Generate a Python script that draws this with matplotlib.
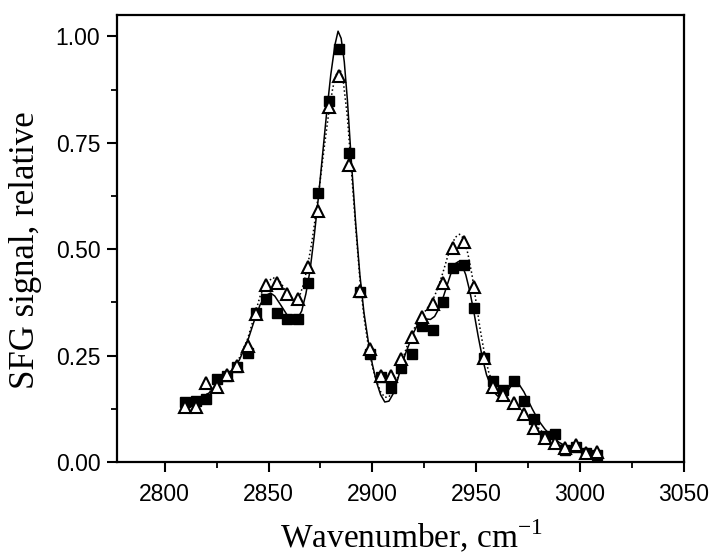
import matplotlib
matplotlib.use("Agg")
import matplotlib.pyplot as plt
from matplotlib.ticker import MultipleLocator, FormatStrFormatter

# measured points (same wavenumbers for both series)
wavenumber = [2810, 2815, 2820, 2825, 2830, 2835, 2840, 2844, 2849, 2854, 2859, 2864,
              2869, 2874, 2879, 2884, 2889, 2894, 2899, 2904, 2909, 2914, 2919, 2924,
              2929, 2934, 2939, 2944, 2949, 2954, 2958, 2963, 2968, 2973, 2978, 2983,
              2988, 2993, 2998, 3003, 3008]
squares = [0.140, 0.144, 0.148, 0.194, 0.203, 0.224, 0.255, 0.349, 0.382, 0.350, 0.337, 0.337,
           0.421, 0.632, 0.847, 0.971, 0.726, 0.400, 0.253, 0.200, 0.174, 0.220, 0.253, 0.319,
           0.310, 0.375, 0.456, 0.462, 0.361, 0.245, 0.190, 0.169, 0.190, 0.144, 0.100, 0.062,
           0.066, 0.028, 0.035, 0.022, 0.016]
triangles = [0.130, 0.130, 0.186, 0.177, 0.204, 0.225, 0.272, 0.347, 0.417, 0.421, 0.394, 0.383,
             0.458, 0.590, 0.834, 0.906, 0.697, 0.402, 0.265, 0.202, 0.202, 0.243, 0.293, 0.340,
             0.371, 0.420, 0.502, 0.516, 0.412, 0.245, 0.177, 0.157, 0.139, 0.113, 0.079, 0.057,
             0.044, 0.032, 0.040, 0.022, 0.024]

# fit curves
fit_solid_x = [2807.5, 2812, 2817, 2822, 2827, 2832, 2836, 2840, 2843, 2846, 2849, 2851, 2853,
               2856, 2859, 2862, 2864, 2866, 2868, 2870, 2872, 2874, 2876, 2878, 2880, 2882,
               2883.5, 2885, 2886.5, 2888, 2890, 2892, 2894, 2896, 2898, 2900, 2902, 2904,
               2906, 2908, 2910, 2912, 2914, 2916, 2918, 2920, 2922, 2924, 2926, 2928, 2930,
               2932, 2934, 2936, 2938, 2940, 2941.5, 2943, 2945, 2947, 2949, 2951, 2953, 2955,
               2957, 2959, 2961, 2963, 2965, 2967, 2969, 2971, 2973, 2975, 2977, 2980, 2983,
               2986, 2990, 2995, 3000, 3005, 3008]
fit_solid_y = [0.115, 0.130, 0.145, 0.165, 0.188, 0.212, 0.240, 0.285, 0.330, 0.370, 0.392, 0.397,
               0.390, 0.368, 0.345, 0.333, 0.337, 0.355, 0.395, 0.450, 0.530, 0.620, 0.720, 0.820,
               0.910, 0.980, 1.012, 0.995, 0.940, 0.850, 0.700, 0.560, 0.440, 0.350, 0.285, 0.230,
               0.188, 0.158, 0.141, 0.143, 0.160, 0.190, 0.225, 0.255, 0.280, 0.305, 0.325, 0.335,
               0.336, 0.335, 0.342, 0.360, 0.385, 0.415, 0.445, 0.466, 0.471, 0.465, 0.440, 0.400,
               0.350, 0.295, 0.245, 0.205, 0.180, 0.162, 0.152, 0.154, 0.165, 0.180, 0.186, 0.180,
               0.165, 0.145, 0.125, 0.098, 0.078, 0.062, 0.046, 0.033, 0.025, 0.019, 0.017]

fit_dot_x = [2807.5, 2812, 2817, 2822, 2827, 2832, 2836, 2840, 2843, 2846, 2849, 2852, 2855,
             2858, 2861, 2863, 2865, 2867, 2869, 2871, 2873, 2875, 2877, 2879, 2881, 2883,
             2884.5, 2886, 2888, 2890, 2892, 2894, 2896, 2898, 2900, 2902, 2904, 2906, 2908,
             2910, 2912, 2914, 2916, 2918, 2920, 2922, 2924, 2926, 2928, 2930, 2932, 2934,
             2936, 2938, 2940, 2942, 2944, 2946, 2948, 2950, 2952, 2954, 2956, 2958, 2960,
             2963, 2966, 2970, 2974, 2978, 2982, 2986, 2990, 2995, 3000, 3005, 3008]
fit_dot_y = [0.115, 0.128, 0.145, 0.167, 0.190, 0.215, 0.245, 0.290, 0.340, 0.390, 0.420, 0.433,
             0.428, 0.405, 0.385, 0.380, 0.390, 0.420, 0.465, 0.520, 0.590, 0.665, 0.745, 0.820,
             0.880, 0.915, 0.922, 0.895, 0.810, 0.680, 0.550, 0.430, 0.340, 0.275, 0.225, 0.190,
             0.165, 0.152, 0.153, 0.168, 0.195, 0.230, 0.262, 0.290, 0.312, 0.330, 0.345, 0.358,
             0.372, 0.390, 0.415, 0.445, 0.478, 0.508, 0.528, 0.535, 0.525, 0.490, 0.440, 0.375,
             0.310, 0.255, 0.212, 0.185, 0.168, 0.155, 0.145, 0.130, 0.112, 0.090, 0.070, 0.054,
             0.042, 0.032, 0.026, 0.021, 0.019]

plt.rcParams['mathtext.fontset'] = 'custom'
plt.rcParams['mathtext.rm'] = 'Liberation Serif'

fig = plt.figure(figsize=(7.13, 5.56), dpi=100)
ax = fig.add_axes([0.164, 0.169, 0.795, 0.804])

ax.plot(fit_solid_x, fit_solid_y, '-', color='black', lw=1.1, zorder=2)
ax.plot(fit_dot_x, fit_dot_y, ':', color='black', lw=1.1, zorder=2)
ax.plot(wavenumber, squares, 's', color='black', ms=6.5, zorder=3)
ax.plot(wavenumber, triangles, '^', mfc='white', mec='black', mew=1.5, ms=8.5, zorder=4)

ax.set_xlim(2777, 3050)
ax.set_ylim(0, 1.05)
ax.xaxis.set_major_locator(MultipleLocator(50))
ax.xaxis.set_minor_locator(MultipleLocator(25))
ax.yaxis.set_major_locator(MultipleLocator(0.25))
ax.yaxis.set_minor_locator(MultipleLocator(0.125))
ax.yaxis.set_major_formatter(FormatStrFormatter('%.2f'))

for s in ax.spines.values():
    s.set_linewidth(1.6)
ax.tick_params(which='major', direction='out', length=7, width=1.5, labelsize=16.5, pad=5)
ax.tick_params(which='minor', direction='out', length=4, width=1.3)
ax.tick_params(axis='x', which='major', pad=8)
for lab in ax.get_xticklabels() + ax.get_yticklabels():
    lab.set_family('Liberation Sans')

ax.set_xlabel('Wavenumber, cm$^{\\mathregular{-1}}$', family='Liberation Serif', fontsize=24)
ax.set_ylabel('SFG signal, relative', family='Liberation Serif', fontsize=25)
ax.xaxis.set_label_coords(0.52, -0.125)
ax.yaxis.set_label_coords(-0.132, 0.475)

plt.savefig('out.png', dpi=100)
